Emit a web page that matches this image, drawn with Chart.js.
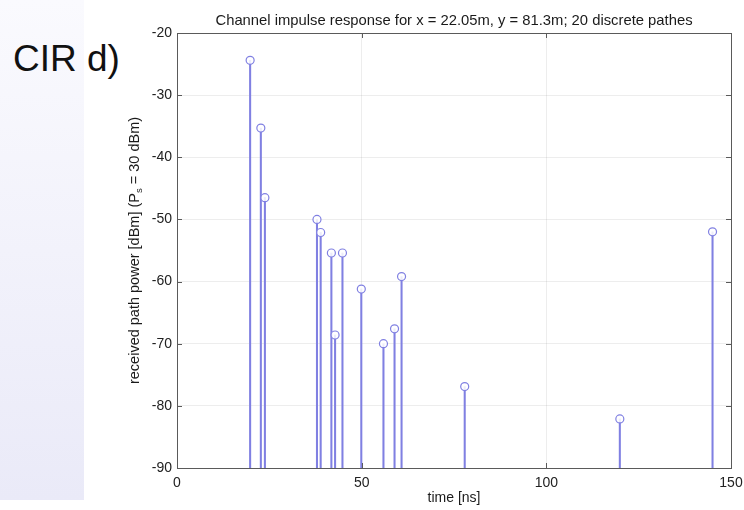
<!DOCTYPE html>
<html>
<head>
<meta charset="utf-8">
<script src="https://cdn.jsdelivr.net/npm/chart.js@4.4.1/dist/chart.umd.min.js"></script>
<style>
  html, body { margin: 0; padding: 0; background: #fff; }
  #wrap { position: relative; width: 744px; height: 510px; overflow: hidden; }
  #panel {
    position: absolute; left: 0; top: 0; width: 84px; height: 500px;
    background: linear-gradient(to bottom, #fafafe, #eaeaf8);
  }
  #label {
    position: absolute; left: 13px; top: 37px;
    font: 37px "Liberation Sans", Arial, sans-serif; color: #111;
    line-height: 44px; white-space: nowrap;
  }
  canvas { position: absolute; left: 0; top: 0; }
</style>
</head>
<body>
<div id="wrap">
  <div id="panel"></div>
  <div id="label">CIR d)</div>
  <canvas id="cir" width="744" height="510"></canvas>
</div>
<script>
// path delays in ns and received power per path in dBm
const delays = [19.8, 22.7, 23.8, 37.9, 38.9, 41.8, 42.8, 44.8, 49.9, 55.9, 58.9, 60.8, 77.9, 119.9, 145.0];
const power = [-24.4, -35.3, -46.5, -50.0, -52.1, -55.4, -68.6, -55.4, -61.2, -70.0, -67.6, -59.2, -76.9, -82.1, -52.0];
const xTicks = [0, 50, 100, 150];
const yTicks = [-90, -80, -70, -60, -50, -40, -30, -20];

const titleText = 'Channel impulse response for x = 22.05m, y = 81.3m; 20 discrete pathes';
const stemColor = 'rgb(128,128,226)';
const font = '"Liberation Sans", Arial, sans-serif';

// stems as floating bars from the bottom of the axis up to each value
const stems = delays.map((t, i) => ({ x: t, y: [yTicks[0], power[i]] }));
const heads = delays.map((t, i) => ({ x: t, y: power[i] }));

const faintGrid = (ctx) => {
  const s = ctx.scale;
  if (!ctx.tick || ctx.tick.value === s.min || ctx.tick.value === s.max) return 'rgba(0,0,0,0)';
  return 'rgba(0,0,0,0.07)';
};

// matlab-like box with inward ticks, plus the titles
const frame = {
  id: 'frame',
  afterDatasetsDraw(chart) {
    const { ctx, chartArea: a, scales } = chart;
    ctx.save();
    ctx.strokeStyle = '#5a5a5a';
    ctx.lineWidth = 1;
    ctx.strokeRect(Math.round(a.left) + 0.5, Math.round(a.top) + 0.5,
      Math.round(a.right - a.left), Math.round(a.bottom - a.top));
    const len = 5;
    ctx.beginPath();
    scales.x.ticks.forEach(t => {
      const px = Math.round(scales.x.getPixelForValue(t.value)) + 0.5;
      ctx.moveTo(px, a.bottom); ctx.lineTo(px, a.bottom - len);
      ctx.moveTo(px, a.top); ctx.lineTo(px, a.top + len);
    });
    scales.y.ticks.forEach(t => {
      const py = Math.round(scales.y.getPixelForValue(t.value)) + 0.5;
      ctx.moveTo(a.left, py); ctx.lineTo(a.left + len, py);
      ctx.moveTo(a.right, py); ctx.lineTo(a.right - len, py);
    });
    ctx.stroke();
    ctx.restore();
  },
  afterDraw(chart) {
    const { ctx, chartArea: a } = chart;
    const cx = (a.left + a.right) / 2;
    ctx.save();
    ctx.fillStyle = '#1a1a1a';
    ctx.textAlign = 'center';
    ctx.textBaseline = 'alphabetic';
    ctx.font = '14.8px ' + font;
    ctx.fillText(titleText, cx, 25);
    ctx.font = '14px ' + font;
    ctx.fillText('time [ns]', cx, 502);

    // y label with subscript s
    const partA = 'received path power [dBm] (P';
    const partB = ' = 30 dBm)';
    ctx.font = '14.5px ' + font;
    const wA = ctx.measureText(partA).width;
    const wB = ctx.measureText(partB).width;
    ctx.font = '9.5px ' + font;
    const wS = ctx.measureText('s').width;
    const total = wA + wS + wB;
    ctx.translate(139, (a.top + a.bottom) / 2);
    ctx.rotate(-Math.PI / 2);
    ctx.textAlign = 'left';
    let x0 = -total / 2;
    ctx.font = '14.5px ' + font;
    ctx.fillText(partA, x0, 0);
    ctx.font = '9.5px ' + font;
    ctx.fillText('s', x0 + wA, 3);
    ctx.font = '14.5px ' + font;
    ctx.fillText(partB, x0 + wA + wS, 0);
    ctx.restore();
  }
};

new Chart(document.getElementById('cir'), {
  type: 'scatter',
  data: {
    datasets: [
      {
        type: 'scatter',
        data: heads,
        order: 0,
        pointStyle: 'circle',
        pointRadius: 4,
        pointBorderWidth: 1.2,
        pointBorderColor: stemColor,
        pointBackgroundColor: 'rgba(255,255,255,0.85)',
        showLine: false
      },
      {
        type: 'bar',
        data: stems,
        order: 1,
        barThickness: 1.4,
        borderWidth: 0,
        backgroundColor: stemColor
      }
    ]
  },
  options: {
    responsive: false,
    animation: false,
    events: [],
    layout: { padding: { left: 0, top: 33, right: 13, bottom: 0 } },
    plugins: {
      legend: { display: false },
      tooltip: { enabled: false },
      title: { display: false }
    },
    scales: {
      x: {
        type: 'linear',
        min: xTicks[0],
        max: xTicks[xTicks.length - 1],
        offset: false,
        afterFit(scale) {
          scale.height = 42;
          scale.paddingLeft = 0;
          scale.paddingRight = 0;
        },
        afterBuildTicks(scale) { scale.ticks = xTicks.map(v => ({ value: v })); },
        border: { display: false },
        grid: { color: faintGrid, drawTicks: false, offset: false },
        ticks: { padding: 7, color: '#222', font: { family: font, size: 14 } }
      },
      y: {
        type: 'linear',
        min: yTicks[0],
        max: yTicks[yTicks.length - 1],
        afterFit(scale) {
          scale.width = 177;
          scale.paddingTop = 0;
          scale.paddingBottom = 0;
        },
        afterBuildTicks(scale) { scale.ticks = yTicks.map(v => ({ value: v })); },
        border: { display: false },
        grid: { color: faintGrid, drawTicks: false },
        ticks: { padding: 5, color: '#222', font: { family: font, size: 14 } }
      }
    }
  },
  plugins: [frame]
});
</script>
</body>
</html>
